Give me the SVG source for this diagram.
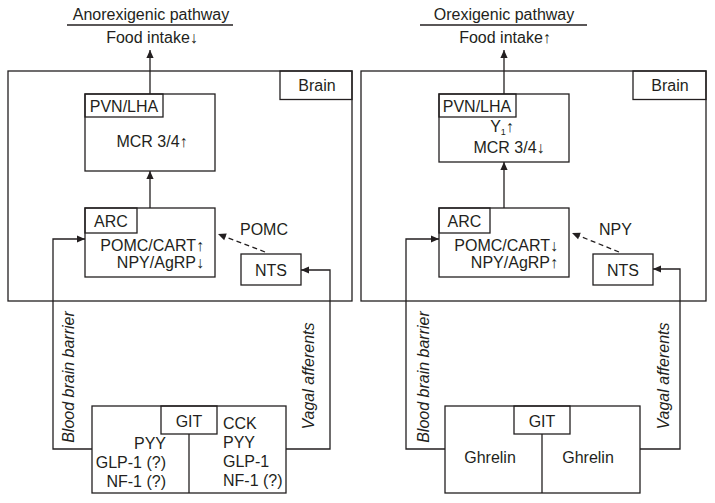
<svg xmlns="http://www.w3.org/2000/svg" width="715" height="503" viewBox="0 0 715 503">
<style>
  text { font-family: "Liberation Sans", Arial, sans-serif; font-size: 16px; fill: #231f20; }
  .it { font-style: italic; }
  .m { text-anchor: middle; }
  .e { text-anchor: end; }
  .arr { font-size: 16px; font-weight: bold; fill: #231f20; }
  rect, line, path { fill: none; stroke: #231f20; stroke-width: 1.3; }
  .dash { stroke-dasharray: 5 3.5; }
</style>
<defs>
  <marker id="ah" viewBox="0 0 10 10" refX="10" refY="5" markerWidth="9" markerHeight="8" markerUnits="userSpaceOnUse" orient="auto">
    <path d="M0,0.5 L10,5 L0,9.5 Z" style="fill:#231f20;stroke:none"/>
  </marker>
</defs>
<rect x="0" y="0" width="715" height="503" style="fill:#fff;stroke:none"/>

<!-- LEFT PANEL -->
<g id="title-left">
  <text x="151" y="20" class="m">Anorexigenic pathway</text>
  <line x1="67" y1="25" x2="233" y2="25"/>
  <text x="152" y="43" class="m">Food intake<tspan class="arr">↓</tspan></text>
</g>
<g id="brain-left">
  <rect x="8" y="71" width="344" height="230"/>
  <rect x="280" y="71" width="72" height="28.5"/>
  <text x="317" y="91" class="m">Brain</text>
</g>
<g id="pvn-left">
  <rect x="85" y="94" width="130" height="77"/>
  <rect x="85" y="94" width="78" height="23"/>
  <text x="124" y="112" class="m">PVN/LHA</text>
  <text x="152" y="147" class="m">MCR 3/4<tspan class="arr">↑</tspan></text>
</g>
<g id="arc-left">
  <rect x="85" y="208" width="130" height="69"/>
  <rect x="85" y="208" width="52" height="25"/>
  <text x="111" y="227" class="m">ARC</text>
  <text x="204" y="251" class="e">POMC/CART<tspan class="arr">↑</tspan></text>
  <text x="204" y="268" class="e">NPY/AgRP<tspan class="arr">↓</tspan></text>
</g>
<g id="nts-left">
  <rect x="241" y="254" width="60" height="31"/>
  <text x="271" y="276" class="m">NTS</text>
</g>
<g id="git-left">
  <rect x="92" y="406" width="194" height="87"/>
  <rect x="161" y="406" width="56" height="28"/>
  <line x1="189" y1="434" x2="189" y2="493"/>
  <text x="189" y="427" class="m">GIT</text>
  <text x="166" y="449" class="e">PYY</text>
  <text x="166" y="468" class="e">GLP-1 (?)</text>
  <text x="166" y="487" class="e">NF-1 (?)</text>
  <text x="223" y="429">CCK</text>
  <text x="223" y="448">PYY</text>
  <text x="223" y="467">GLP-1</text>
  <text x="223" y="486">NF-1 (?)</text>
</g>

<!-- RIGHT PANEL -->
<g id="title-right">
  <text x="504" y="20" class="m">Orexigenic pathway</text>
  <line x1="420" y1="25" x2="587" y2="25"/>
  <text x="505" y="43" class="m">Food intake<tspan class="arr">↑</tspan></text>
</g>
<g id="brain-right">
  <rect x="361" y="71" width="345" height="230"/>
  <rect x="633" y="71" width="73" height="28.5"/>
  <text x="670" y="91" class="m">Brain</text>
</g>
<g id="pvn-right">
  <rect x="439" y="94" width="130" height="68"/>
  <rect x="439" y="94" width="77" height="23"/>
  <text x="477" y="112" class="m">PVN/LHA</text>
  <text x="502" y="132" class="m">Y<tspan font-size="9" dy="3">1</tspan><tspan class="arr" dy="-3">↑</tspan></text>
  <text x="509" y="153" class="m">MCR 3/4<tspan class="arr">↓</tspan></text>
</g>
<g id="arc-right">
  <rect x="439" y="208" width="130" height="69"/>
  <rect x="439" y="208" width="51" height="25"/>
  <text x="464.5" y="227" class="m">ARC</text>
  <text x="558" y="251" class="e">POMC/CART<tspan class="arr">↓</tspan></text>
  <text x="558" y="268" class="e">NPY/AgRP<tspan class="arr">↑</tspan></text>
</g>
<g id="nts-right">
  <rect x="593" y="254" width="60" height="31"/>
  <text x="623" y="276" class="m">NTS</text>
</g>
<g id="git-right">
  <rect x="445" y="406" width="195" height="87"/>
  <rect x="514" y="406" width="56" height="28"/>
  <line x1="542" y1="434" x2="542" y2="493"/>
  <text x="542" y="427" class="m">GIT</text>
  <text x="490" y="463" class="m">Ghrelin</text>
  <text x="588" y="463" class="m">Ghrelin</text>
</g>

<!-- CONNECTORS -->
<g id="connectors">
  <line x1="150" y1="94" x2="150" y2="50" marker-end="url(#ah)"/>
  <line x1="150" y1="208" x2="150" y2="171" marker-end="url(#ah)"/>
  <line x1="265" y1="252" x2="218" y2="234" class="dash" marker-end="url(#ah)"/>
  <path d="M92,449 H53 V239 H85" marker-end="url(#ah)"/>
  <path d="M286,449 H330 V270 H301" marker-end="url(#ah)"/>

  <line x1="504" y1="94" x2="504" y2="50" marker-end="url(#ah)"/>
  <line x1="504" y1="208" x2="504" y2="162" marker-end="url(#ah)"/>
  <line x1="619" y1="252" x2="572" y2="233" class="dash" marker-end="url(#ah)"/>
  <path d="M445,449 H406 V239 H439" marker-end="url(#ah)"/>
  <path d="M640,449 H680 V269 H653" marker-end="url(#ah)"/>
</g>

<g id="labels">
  <text x="240" y="235">POMC</text>
  <text x="599" y="235">NPY</text>
  <text class="it m" transform="translate(74,377) rotate(-90)">Blood brain barrier</text>
  <text class="it m" transform="translate(314,376) rotate(-90)">Vagal afferents</text>
  <text class="it m" transform="translate(429,377) rotate(-90)">Blood brain barrier</text>
  <text class="it m" transform="translate(669,376) rotate(-90)">Vagal afferents</text>
</g>
</svg>
